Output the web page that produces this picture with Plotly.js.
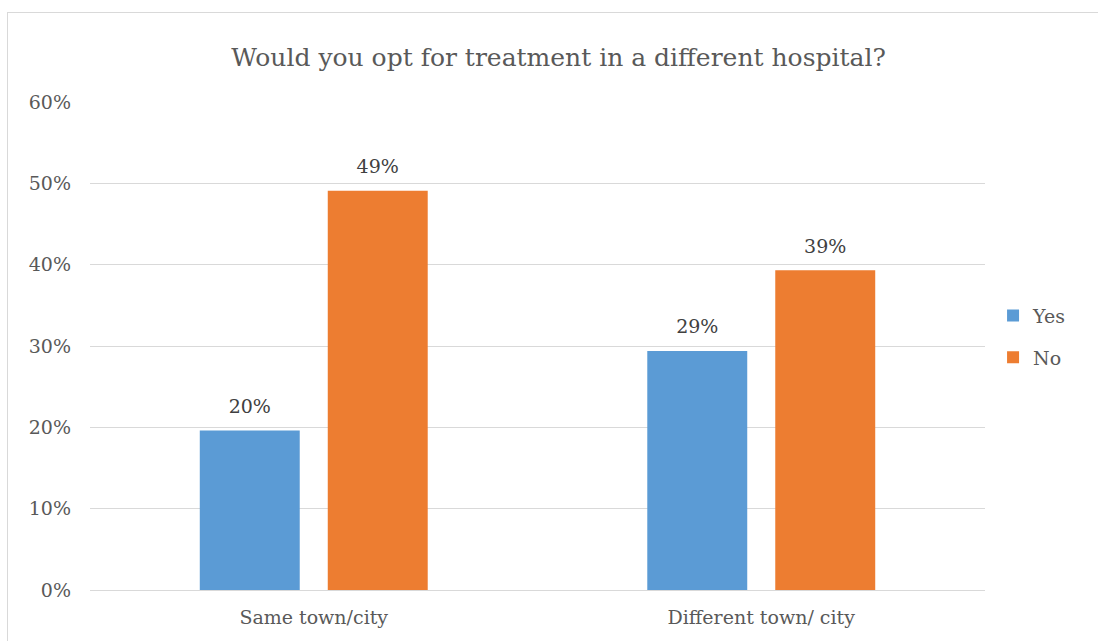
<!DOCTYPE html>
<html>
<head>
<meta charset="utf-8">
<script src="https://cdn.plot.ly/plotly-3.0.1.min.js"></script>
<style>
html,body{margin:0;padding:0;background:#fff;}
#frame{position:absolute;left:7px;top:12px;width:1100px;height:640px;border:1px solid #d9d9d9;pointer-events:none;}
#chart{position:absolute;left:0;top:0;width:1098px;height:641px;}
</style>
</head>
<body>
<div id="frame"></div>
<div id="chart"></div>
<script>
const categories = ["Same town/city", "Different town/ city"];
const yesValues = [0.196, 0.294];
const noValues = [0.491, 0.393];
const seriesNames = ["Yes", "No"];
const tickValues = [0, 0.1, 0.2, 0.3, 0.4, 0.5, 0.6];

const serif = "DejaVu Serif";
const gray = "#595959";
const fs = 19;

const barBase = {type: "bar", x: categories, hoverinfo: "x+y"};
const traces = [
  Object.assign({}, barBase, {name: seriesNames[0], y: yesValues, marker: {color: "#5B9BD5"}, offsetgroup: "yes", legendgroup: "a"}),
  Object.assign({}, barBase, {name: seriesNames[1], y: noValues, marker: {color: "#ED7D31"}, offsetgroup: "no", legendgroup: "b"}),
  {type: "scatter", mode: "markers+text", x: categories, y: yesValues, offsetgroup: "yes", showlegend: false,
   texttemplate: "%{y:.0%}", textposition: "top center", marker: {size: 19, opacity: 0},
   textfont: {family: serif, size: fs, color: "#404040"}, hoverinfo: "skip", cliponaxis: false},
  {type: "scatter", mode: "markers+text", x: categories, y: noValues, offsetgroup: "no", showlegend: false,
   texttemplate: "%{y:.0%}", textposition: "top center", marker: {size: 19, opacity: 0},
   textfont: {family: serif, size: fs, color: "#404040"}, hoverinfo: "skip", cliponaxis: false}
];

const layout = {
  width: 1098, height: 641,
  paper_bgcolor: "rgba(0,0,0,0)", plot_bgcolor: "rgba(0,0,0,0)",
  margin: {l: 90, r: 113, t: 102, b: 51},
  font: {family: serif, color: gray, size: fs},
  title: {text: "Would you opt for treatment in a different hospital?", x: 0.5087, xanchor: "center",
          y: 0.911, yanchor: "middle", font: {family: serif, size: 25, color: gray}},
  barmode: "group", bargap: 0.428, bargroupgap: 0.219,
  scattermode: "group", scattergap: 0.428,
  xaxis: {showgrid: false, showline: true, linecolor: "#d9d9d9", linewidth: 1, ticks: "",
          tickfont: {family: serif, size: fs, color: gray}, ticklabelstandoff: 10, fixedrange: true},
  yaxis: {range: [0, 0.6], tickvals: tickValues, tickformat: ".0%", showgrid: true, gridcolor: "#d9d9d9",
          gridwidth: 1, zeroline: false, showline: false, ticks: "",
          tickfont: {family: serif, size: fs, color: gray}, ticklabelstandoff: 18, fixedrange: true},
  showlegend: true,
  legend: {x: 1.009, xanchor: "left", y: 0.519, yanchor: "middle", traceorder: "grouped", tracegroupgap: 14,
           font: {family: serif, size: fs, color: gray}, bgcolor: "rgba(0,0,0,0)"}
};

Plotly.newPlot("chart", traces, layout, {displayModeBar: false, staticPlot: true});
</script>
</body>
</html>
